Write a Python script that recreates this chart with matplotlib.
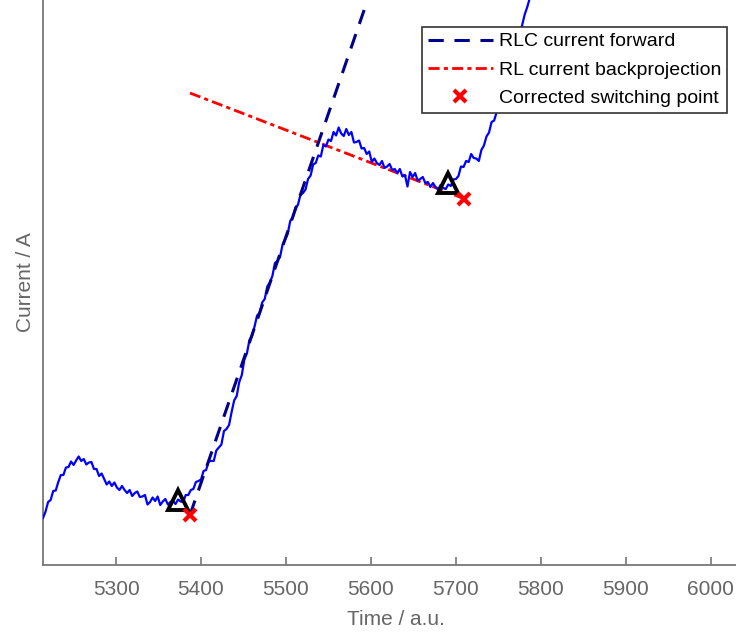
import numpy as np
import matplotlib
matplotlib.use("Agg")
import matplotlib.pyplot as plt

# Measured coil current, sampled every 3 time units starting at t = 5214
t_start = 5214
t_step = 3
current = [
    4.7, 5.35, 6.3, 6.5, 7.4, 7.45, 8.3, 9.0, 9.0, 9.75,
    9.8, 10.35, 10.0, 10.45, 10.85, 10.4, 10.6, 10.05, 10.25, 10.3,
    9.6, 9.6, 8.9, 9.15, 8.6, 8.05, 8.35, 7.9, 8.25, 7.75,
    7.5, 7.9, 7.5, 7.2, 7.5, 6.9, 7.2, 7.35, 6.8, 6.85,
    7.0, 6.05, 6.3, 6.75, 6.4, 6.85, 6.0, 6.35, 6.6, 6.05,
    6.3, 6.4, 6.1, 6.55, 6.35, 6.3, 7.0, 7.0, 7.5, 7.6,
    8.3, 8.4, 8.55, 9.4, 9.5, 10.4, 10.4, 10.4, 11.45, 11.75,
    12.05, 13.4, 13.6, 14.0, 15.3, 16.45, 16.9, 18.3, 19.0, 20.55,
    21.15, 22.5, 22.9, 23.85, 24.95, 25.2, 26.25, 26.6, 27.85, 28.25,
    28.9, 30.2, 30.4, 30.8, 32.05, 32.55, 33.1, 34.4, 34.75, 35.7,
    36.0, 37.0, 37.2, 37.55, 38.6, 38.95, 40.05, 40.2, 40.95, 40.85,
    42.0, 41.85, 42.55, 42.4, 43.3, 42.95, 43.75, 43.15, 42.9, 43.6,
    43.0, 43.3, 42.25, 42.3, 42.45, 41.65, 41.7, 41.1, 41.35, 40.3,
    40.65, 40.2, 40.0, 40.4, 39.7, 39.85, 40.1, 39.5, 39.6, 39.2,
    39.6, 38.85, 39.0, 37.85, 39.3, 38.8, 39.2, 38.45, 38.6, 38.8,
    38.2, 38.3, 37.8, 38.2, 37.8, 37.55, 38.0, 37.7, 37.6, 38.05,
    37.9, 38.55, 38.6, 38.9, 39.85, 39.8, 40.4, 40.3, 41.1, 40.7,
    40.65, 40.4, 41.5, 41.95, 42.85, 43.25, 44.3, 44.45, 45.3, 46.0,
    47.0, 47.7, 48.8, 49.55, 50.35, 51.4, 52.35, 53.0, 54.0, 55.05,
    55.8, 56.7,
]
time = t_start + t_step * np.arange(len(current))

# Detected switching points (on the measured curve)
detected_t = [5373, 5691]
detected_i = [6.5, 38.2]

# Corrected switching points
corrected_t = [5387, 5709]
corrected_i = [5.0, 36.65]

# RLC model current, projected forward from the first corrected point
rlc_t = [5387, 5458, 5592]
rlc_i = [5.0, 22.5, 55.5]

# RL model current, projected backward to the second corrected point
rl_t = [5387, 5709]
rl_i = [47.2, 36.65]

x_ticks = [5300, 5400, 5500, 5600, 5700, 5800, 5900, 6000]

plt.rcParams["font.family"] = ["Liberation Sans", "DejaVu Sans"]
gray_text = "#666666"
gray_axis = "#777777"

fig = plt.figure(figsize=(7.36, 6.32), dpi=100)
ax = fig.add_axes([43 / 736, 67 / 632, 706 / 736, 565 / 632])

ax.plot(rl_t, rl_i, color="#ff0000", lw=2.0, dashes=(4, 1.5, 1.5, 1.5),
        label="RL current backprojection", zorder=2)
ax.plot(time, current, color="#0000ff", lw=1.6, zorder=3)
ax.plot(rlc_t, rlc_i, color="#00008b", lw=2.2, dashes=(5, 3.5),
        label="RLC current forward", zorder=4)
ax.plot(detected_t, detected_i, linestyle="none", marker="^", ms=15,
        mfc="none", mec="black", mew=2.8, zorder=5)
ax.plot(corrected_t, corrected_i, linestyle="none", marker="x", ms=8.5,
        mec="#ff0000", mew=3, label="Corrected switching point", zorder=6)

ax.set_xlim(5214, 6045)
ax.set_ylim(0, 56.5)
ax.set_xticks(x_ticks)
ax.set_yticks([])

for side in ("top", "right"):
    ax.spines[side].set_visible(False)
for side in ("left", "bottom"):
    ax.spines[side].set_color(gray_axis)
    ax.spines[side].set_linewidth(1.3)

ax.tick_params(axis="x", direction="in", length=5.5, width=1.2, color=gray_axis,
               labelcolor=gray_text, labelsize=15, pad=11)
ax.set_xlabel("Time / a.u.", fontsize=15, color=gray_text, labelpad=8)
ax.set_ylabel("Current / A", fontsize=15, color=gray_text, labelpad=6)

handles, labels = ax.get_legend_handles_labels()
order = [labels.index("RLC current forward"),
         labels.index("RL current backprojection"),
         labels.index("Corrected switching point")]
leg = ax.legend([handles[i] for i in order], [labels[i] for i in order],
                loc="upper right", bbox_to_anchor=(727 / 736, 1 - 27 / 632),
                bbox_transform=fig.transFigure, fontsize=14, frameon=True,
                fancybox=False, framealpha=1, edgecolor="#333333",
                handlelength=3.35, handletextpad=0.3, labelspacing=0.55,
                borderpad=0.3, borderaxespad=0)
leg.get_frame().set_linewidth(1.2)

fig.savefig("out.png", dpi=100)
